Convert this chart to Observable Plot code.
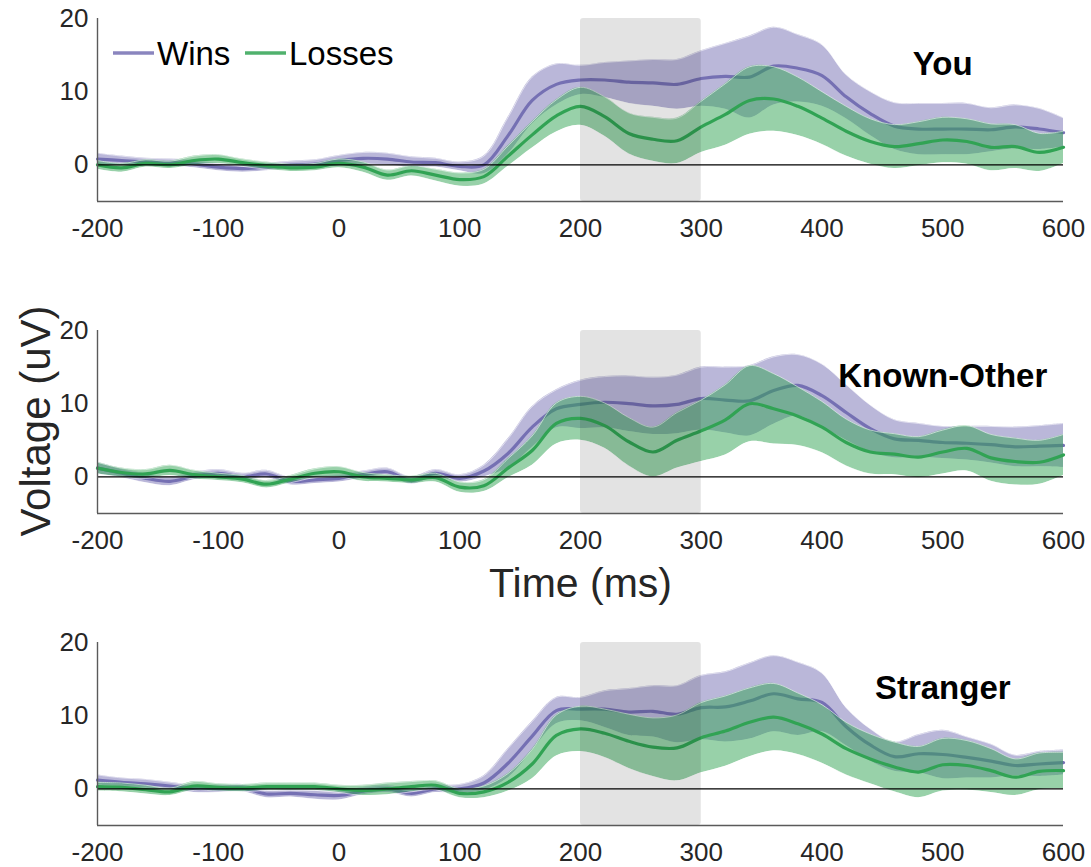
<!DOCTYPE html>
<html>
<head>
<meta charset="utf-8">
<script src="https://cdn.jsdelivr.net/npm/d3@7"></script>
<script src="https://cdn.jsdelivr.net/npm/@observablehq/plot@0.6"></script>
<style>
  body { margin: 0; background: #fff; font-family: "Liberation Sans", Arial, Helvetica, sans-serif; }
  #figure { position: relative; width: 1091px; height: 867px; overflow: hidden; }
  #figure svg.panel { position: absolute; left: 0; }
  #overlay { position: absolute; left: 0; top: 0; pointer-events: none; }
</style>
</head>
<body>
<div id="figure"></div>
<script>
// ERP waveforms (mean ± SEM) for wins and losses, sampled every 20 ms
const timesMs = [-200, -180, -160, -140, -120, -100, -80, -60, -40, -20, 0, 20, 40, 60, 80, 100,
  120, 140, 160, 180, 200, 220, 240, 260, 280, 300, 320, 340, 360, 380, 400, 420, 440, 460, 480,
  500, 520, 540, 560, 580, 600];

const youWinsMean = [0.8, 0.6, 0.4, 0.3, 0.1, -0.3, -0.5, -0.3, 0.0, 0.1, 0.6, 0.9, 0.8, 0.4, 0.3, -0.2,
  0.0, 4.0, 8.8, 11.0, 11.6, 11.6, 11.3, 11.2, 11.0, 11.8, 12.1, 12.0, 13.5, 13.2, 12.2, 9.3, 7.0, 5.3, 4.9,
  4.9, 4.9, 4.8, 5.2, 4.9, 4.4];
const youWinsSem = [0.8, 0.6, 0.5, 0.5, 0.5, 0.5, 0.5, 0.5, 0.5, 0.6, 0.7, 0.8, 0.8, 0.7, 0.6, 0.6,
  1.2, 2.5, 3.2, 2.8, 2.0, 2.4, 2.9, 3.2, 3.4, 3.8, 4.5, 5.6, 5.3, 4.6, 4.2, 3.0, 3.0, 3.2, 3.5,
  3.5, 3.5, 3.0, 3.0, 2.8, 2.0];
const youLossesMean = [0.0, -0.4, 0.2, 0.0, 0.6, 0.8, 0.3, -0.1, -0.4, -0.3, 0.2, -0.3, -1.4, -0.8, -1.4, -2.0,
  -1.6, 1.2, 4.1, 6.7, 8.0, 6.6, 4.3, 3.5, 3.3, 5.2, 6.9, 8.8, 9.0, 8.0, 6.4, 4.6, 3.2, 2.5, 2.9,
  3.4, 3.2, 2.4, 2.5, 1.7, 2.4];
const youLossesSem = [0.6, 0.6, 0.5, 0.5, 0.6, 0.6, 0.5, 0.5, 0.5, 0.5, 0.6, 0.7, 0.7, 0.7, 0.8, 0.9,
  1.0, 1.4, 1.8, 2.2, 2.6, 2.7, 2.8, 3.0, 3.1, 3.5, 4.2, 4.6, 4.4, 4.0, 3.6, 3.4, 3.1, 3.0, 3.0,
  3.1, 3.1, 3.2, 3.0, 2.6, 2.2];

const knownWinsMean = [1.2, 0.5, -0.2, -0.6, 0.1, 0.5, 0.0, 0.4, -0.6, -0.4, -0.2, 0.3, 0.7, -0.5, 0.5, -0.2,
  0.8, 3.2, 6.8, 9.3, 9.9, 10.2, 10.0, 9.7, 9.9, 10.7, 10.5, 10.4, 11.8, 12.5, 11.1, 8.8, 6.6, 5.2, 5.0,
  4.7, 4.6, 4.4, 4.1, 4.2, 4.3];
const knownWinsSem = [0.8, 0.6, 0.6, 0.6, 0.5, 0.5, 0.5, 0.5, 0.5, 0.5, 0.5, 0.5, 0.5, 0.5, 0.5, 0.5,
  0.8, 2.0, 2.8, 2.6, 3.3, 3.5, 3.8, 3.9, 4.0, 4.3, 4.5, 4.8, 4.6, 4.2, 4.3, 3.8, 3.2, 2.6, 2.3,
  2.2, 2.3, 2.5, 2.7, 2.8, 3.0];
const knownLossesMean = [1.2, 0.6, 0.4, 0.9, 0.3, 0.0, -0.3, -1.0, -0.3, 0.5, 0.7, 0.0, -0.2, -0.4, -0.1, -1.4,
  -1.2, 1.2, 3.6, 7.3, 8.0, 7.0, 4.8, 3.4, 5.0, 6.3, 7.8, 10.0, 9.3, 8.3, 6.8, 4.7, 3.4, 3.1, 2.7,
  3.4, 3.9, 2.6, 2.1, 2.0, 3.0];
const knownLossesSem = [0.8, 0.6, 0.6, 0.7, 0.6, 0.5, 0.5, 0.5, 0.5, 0.6, 0.7, 0.6, 0.5, 0.5, 0.6, 0.7,
  0.8, 1.3, 2.0, 2.8, 3.0, 3.1, 3.3, 3.4, 3.8, 4.2, 4.8, 5.2, 4.8, 4.0, 3.5, 3.2, 3.0, 2.8, 2.8,
  3.0, 3.1, 3.2, 3.2, 3.0, 2.8];

const strangerWinsMean = [1.2, 0.9, 0.7, 0.4, 0.0, 0.0, 0.1, -0.7, -0.6, -0.8, -0.9, -0.3, 0.0, -0.6, 0.0, 0.0,
  0.8, 3.5, 7.2, 10.7, 10.9, 10.9, 10.5, 10.6, 10.2, 11.1, 11.2, 12.0, 13.0, 12.3, 11.8, 8.5, 6.0, 4.4, 4.8,
  4.7, 4.3, 3.8, 3.2, 3.4, 3.6];
const strangerWinsSem = [0.7, 0.6, 0.6, 0.5, 0.5, 0.5, 0.5, 0.5, 0.5, 0.6, 0.6, 0.5, 0.5, 0.5, 0.5, 0.6,
  1.0, 2.0, 2.0, 1.8, 1.6, 2.5, 3.2, 3.5, 3.9, 4.4, 4.8, 5.2, 5.2, 5.0, 4.0, 2.6, 2.2, 2.0, 2.6,
  3.3, 2.8, 2.3, 1.4, 1.7, 1.7];
const strangerLossesMean = [0.3, 0.2, -0.1, -0.4, 0.4, 0.2, 0.1, 0.3, 0.3, 0.3, 0.0, -0.2, 0.0, 0.3, 0.5, -0.6,
  -0.4, 0.9, 3.4, 7.3, 8.2, 7.6, 6.5, 5.7, 5.6, 7.0, 7.9, 9.1, 9.8, 8.9, 7.5, 5.5, 4.1, 3.0, 2.3,
  3.3, 3.2, 2.5, 1.6, 2.4, 2.5];
const strangerLossesSem = [0.6, 0.6, 0.6, 0.5, 0.6, 0.5, 0.5, 0.5, 0.5, 0.5, 0.5, 0.7, 0.8, 0.7, 0.6, 0.6,
  0.8, 1.2, 2.0, 2.8, 3.1, 3.3, 3.7, 4.0, 4.5, 4.8, 4.8, 4.7, 4.6, 4.2, 4.0, 3.6, 3.4, 3.4, 3.5,
  3.6, 3.4, 3.0, 2.5, 2.5, 2.5];

const panelTitles = ["You", "Known-Other", "Stranger"];
const conditions = ["Wins", "Losses"];
const responseWindowMs = [[200, 300]];
const xTicks = [-200, -100, 0, 100, 200, 300, 400, 500, 600];
const yTicks = [0, 10, 20];
const xDomain = [-200, 600];
const yDomain = [-5, 20];

const colors = { Wins: "#7570b3", Losses: "#31a354" };
const fontFamily = '"Liberation Sans", Arial, Helvetica, sans-serif';
const axisColor = "#5a5a5a";
const curve = "catmull-rom";

function series(mean, sem) {
  return timesMs.map((t, i) => ({ t, mean: mean[i], lo: mean[i] - sem[i], hi: mean[i] + sem[i] }));
}

function bandMarks(data, color) {
  return [
    Plot.areaY(data, { x: "t", y1: "lo", y2: "hi", fill: color, fillOpacity: 0.5, curve }),
    Plot.lineY(data, { x: "t", y: "hi", stroke: "#fff", strokeWidth: 0.8, strokeOpacity: 0.7, curve }),
    Plot.lineY(data, { x: "t", y: "lo", stroke: "#fff", strokeWidth: 0.8, strokeOpacity: 0.7, curve }),
    Plot.lineY(data, { x: "t", y: "mean", stroke: color, strokeWidth: 3.2, curve })
  ];
}

function panel(title, wins, losses) {
  return Plot.plot({
    width: 1091,
    height: 250,
    marginTop: 18,
    marginBottom: 49,
    marginLeft: 97,
    marginRight: 28,
    x: { domain: xDomain },
    y: { domain: yDomain },
    style: { fontFamily, fontSize: "26px", color: "#262626", background: "transparent", overflow: "visible" },
    marks: [
      ...bandMarks(wins, colors.Wins),
      ...bandMarks(losses, colors.Losses),
      Plot.rect(responseWindowMs, {
        x1: d => d[0], x2: d => d[1], y1: () => yDomain[0], y2: () => yDomain[1],
        fill: "#000", fillOpacity: 0.11, rx: 3
      }),
      Plot.ruleY([0], { stroke: "#000", strokeWidth: 1.2 }),
      Plot.ruleX([xDomain[0]], { y1: () => yDomain[0], y2: () => yDomain[1], stroke: axisColor, strokeWidth: 1.4 }),
      Plot.ruleY([yDomain[0]], { x1: () => xDomain[0], x2: () => xDomain[1], stroke: axisColor, strokeWidth: 1.4 }),
      Plot.axisX({ ticks: xTicks, tickSize: 0, tickPadding: 17, tickFormat: d => String(d), label: null, fontSize: 26 }),
      Plot.axisY({ ticks: yTicks, tickSize: 0, tickPadding: 9, tickFormat: d => String(d), label: null, fontSize: 26 }),
      Plot.text([title], {
        x: () => 500, y: () => 13.7, text: d => d,
        fontSize: 33, fontWeight: "bold", fill: "#000"
      })
    ]
  });
}

const panels = [
  { title: panelTitles[0], wins: series(youWinsMean, youWinsSem), losses: series(youLossesMean, youLossesSem), top: 0 },
  { title: panelTitles[1], wins: series(knownWinsMean, knownWinsSem), losses: series(knownLossesMean, knownLossesSem), top: 312 },
  { title: panelTitles[2], wins: series(strangerWinsMean, strangerWinsSem), losses: series(strangerLossesMean, strangerLossesSem), top: 624 }
];

const figure = document.getElementById("figure");
for (const p of panels) {
  const svg = panel(p.title, p.wins, p.losses);
  svg.classList.add("panel");
  svg.style.top = p.top + "px";
  figure.appendChild(svg);
}

// Shared axis titles and the legend
const overlay = d3.select(figure).append("svg")
  .attr("id", "overlay")
  .attr("width", 1091)
  .attr("height", 867)
  .style("font-family", fontFamily);

const legend = overlay.append("g").attr("transform", "translate(113,0)");
const legendOffsets = [0, 132];
conditions.forEach((c, i) => {
  const g = legend.append("g").attr("transform", `translate(${legendOffsets[i]},0)`);
  g.append("line").attr("x1", 0).attr("x2", 41).attr("y1", 53).attr("y2", 53)
    .attr("stroke", colors[c]).attr("stroke-width", 3.5).attr("stroke-opacity", 0.85);
  g.append("text").attr("x", 44).attr("y", 65).attr("font-size", 33).attr("fill", "#000").text(c);
});

overlay.append("text")
  .attr("transform", "translate(50,421) rotate(-90)")
  .attr("text-anchor", "middle")
  .attr("font-size", 42)
  .attr("fill", "#262626")
  .text("Voltage (uV)");

overlay.append("text")
  .attr("x", 580.5)
  .attr("y", 597)
  .attr("text-anchor", "middle")
  .attr("font-size", 41)
  .attr("fill", "#262626")
  .text("Time (ms)");
</script>
</body>
</html>
